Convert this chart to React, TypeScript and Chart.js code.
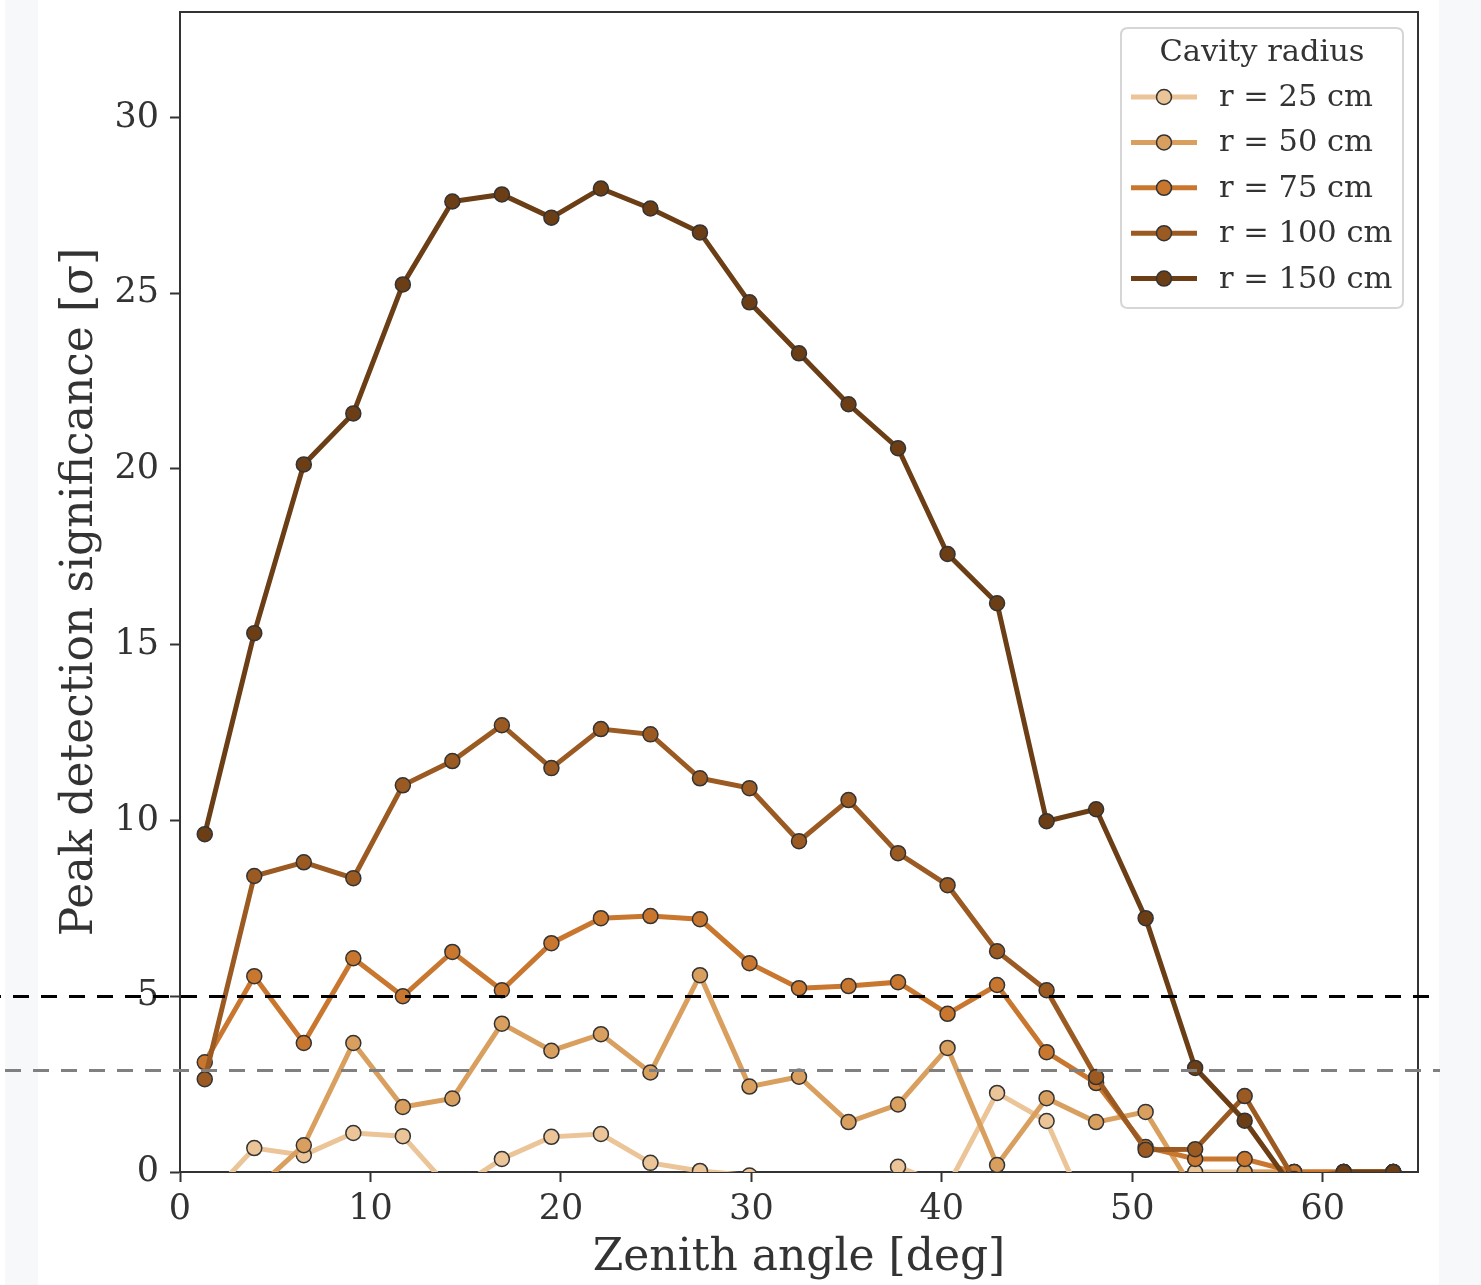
import React, { useEffect, useRef } from "react";
import { Chart, registerables } from "chart.js";

Chart.register(...registerables);

// ---------- data ----------
const zenithAngles = [1.3, 3.9, 6.5, 9.1, 11.7, 14.3, 16.9, 19.5, 22.1, 24.7, 27.3, 29.9, 32.5, 35.1, 37.7, 40.3, 42.9, 45.5, 48.1, 50.7, 53.3, 55.9, 58.5, 61.1, 63.7];

const sigR25 = [-0.83, 0.68, 0.48, 1.11, 1.02, -0.55, 0.37, 1.0, 1.08, 0.26, 0.03, -0.1, -1.0, -1.5, 0.15, -0.41, 2.25, 1.45, -1.73, -0.5, 0, 0, 0, 0, 0];
const sigR50 = [-1.0, -0.53, 0.76, 3.67, 1.85, 2.09, 4.22, 3.45, 3.92, 2.83, 5.6, 2.43, 2.71, 1.42, 1.92, 3.53, 0.2, 2.1, 1.42, 1.71, -0.6, 0, 0, 0, 0];
const sigR75 = [3.12, 5.57, 3.67, 6.08, 5.0, 6.26, 5.17, 6.51, 7.22, 7.28, 7.19, 5.94, 5.23, 5.29, 5.4, 4.5, 5.32, 3.41, 2.53, 0.71, 0.37, 0.37, 0, 0, 0];
const sigR100 = [2.64, 8.42, 8.81, 8.36, 11.0, 11.69, 12.71, 11.49, 12.6, 12.45, 11.2, 10.92, 9.41, 10.58, 9.07, 8.16, 6.28, 5.17, 2.7, 0.63, 0.65, 2.16, -0.2, 0, 0];
const sigR150 = [9.61, 15.33, 20.13, 21.58, 25.25, 27.61, 27.81, 27.15, 27.98, 27.41, 26.73, 24.74, 23.29, 21.84, 20.59, 17.58, 16.18, 9.98, 10.32, 7.22, 2.96, 1.46, -0.5, 0, 0];

const seriesValues = [sigR25, sigR50, sigR75, sigR100, sigR150];
const seriesLabels = ["r = 25 cm", "r = 50 cm", "r = 75 cm", "r = 100 cm", "r = 150 cm"];
const seriesColors = ["#ebc498", "#d99f5f", "#c9772f", "#9b5a22", "#6b3e16"];

const thresholdValues = [5, 2.9];
const thresholdColors = ["#000000", "#808080"];

const legendTitle = "Cavity radius";
const xTitle = "Zenith angle [deg]";
const yTitle = "Peak detection significance [σ]";

const FONT = '"DejaVu Serif", serif';
const INK = "#333333";

// ---------- plugins ----------
const framePlugin = {
  id: "frame",
  afterDraw(chart: any) {
    const { ctx, chartArea } = chart;
    const ys = chart.scales.y;
    ctx.save();
    ctx.strokeStyle = INK;
    ctx.lineWidth = 2;
    ctx.beginPath();
    ctx.moveTo(chartArea.left, chartArea.top);
    ctx.lineTo(chartArea.right, chartArea.top);
    ctx.lineTo(chartArea.right, chartArea.bottom);
    ctx.stroke();

    const offsets = [15, 23];
    thresholdValues.forEach((v, i) => {
      const py = Math.round(ys.getPixelForValue(v)) + 0.5;
      ctx.strokeStyle = thresholdColors[i];
      ctx.lineWidth = 3;
      ctx.setLineDash([16, 12]);
      ctx.lineDashOffset = offsets[i];
      ctx.beginPath();
      ctx.moveTo(0, py);
      ctx.lineTo(1440, py);
      ctx.stroke();
    });
    ctx.setLineDash([]);

    const lx = 1121, ly = 28, lw = 282, lh = 280, rad = 7;
    ctx.beginPath();
    ctx.moveTo(lx + rad, ly);
    ctx.lineTo(lx + lw - rad, ly);
    ctx.quadraticCurveTo(lx + lw, ly, lx + lw, ly + rad);
    ctx.lineTo(lx + lw, ly + lh - rad);
    ctx.quadraticCurveTo(lx + lw, ly + lh, lx + lw - rad, ly + lh);
    ctx.lineTo(lx + rad, ly + lh);
    ctx.quadraticCurveTo(lx, ly + lh, lx, ly + lh - rad);
    ctx.lineTo(lx, ly + rad);
    ctx.quadraticCurveTo(lx, ly, lx + rad, ly);
    ctx.closePath();
    ctx.fillStyle = "rgba(255,255,255,0.85)";
    ctx.fill();
    ctx.strokeStyle = "#d6d6d6";
    ctx.lineWidth = 2;
    ctx.stroke();

    ctx.font = `30.5px ${FONT}`;
    ctx.fillStyle = INK;
    ctx.textAlign = "center";
    ctx.textBaseline = "middle";
    ctx.fillText(legendTitle, 1262, 53);

    chart.data.datasets.forEach((ds: any, i: number) => {
      const cy = 97 + i * 45.4;
      ctx.strokeStyle = ds.borderColor;
      ctx.lineWidth = 5;
      ctx.beginPath();
      ctx.moveTo(1131, cy);
      ctx.lineTo(1197, cy);
      ctx.stroke();
      ctx.beginPath();
      ctx.arc(1164, cy, 7.5, 0, Math.PI * 2);
      ctx.fillStyle = ds.pointBackgroundColor;
      ctx.fill();
      ctx.strokeStyle = INK;
      ctx.lineWidth = 1.5;
      ctx.stroke();
      ctx.fillStyle = INK;
      ctx.textAlign = "left";
      ctx.fillText(ds.label, 1219, cy + 1);
    });
    ctx.restore();
  },
};

export default function App() {
  const canvasRef = useRef<HTMLCanvasElement | null>(null);

  useEffect(() => {
    if (!canvasRef.current) return;
    const datasets = seriesValues.map((vals, i) => ({
      label: seriesLabels[i],
      data: zenithAngles.map((x, j) => ({ x, y: vals[j] })),
      borderColor: seriesColors[i],
      backgroundColor: seriesColors[i],
      borderWidth: 5,
      pointRadius: 7.5,
      pointHoverRadius: 7.5,
      pointBackgroundColor: seriesColors[i],
      pointBorderColor: INK,
      pointBorderWidth: 1.5,
      tension: 0,
      clip: 0,
      order: seriesValues.length - i,
    }));

    const chart = new Chart(canvasRef.current, {
      type: "line",
      data: { datasets },
      options: {
        animation: false,
        responsive: false,
        devicePixelRatio: 1,
        layout: { padding: { top: 12, right: 63, left: 0, bottom: 0 } },
        plugins: { legend: { display: false }, tooltip: { enabled: false } },
        scales: {
          x: {
            type: "linear",
            min: 0,
            max: 65,
            ticks: {
              stepSize: 10,
              includeBounds: false,
              font: { family: FONT, size: 35 },
              color: INK,
              padding: 7,
            },
            grid: { drawOnChartArea: false, tickLength: 10, tickWidth: 2, tickColor: INK },
            border: { display: true, color: INK, width: 2 },
            title: {
              display: true,
              text: xTitle,
              font: { family: FONT, size: 44 },
              color: INK,
              padding: { top: 0, bottom: 0 },
            },
            afterFit: (s: any) => {
              s.height = 113;
              s.paddingLeft = 0;
              s.paddingRight = 0;
            },
          },
          y: {
            type: "linear",
            min: 0,
            max: 33,
            ticks: {
              stepSize: 5,
              includeBounds: false,
              font: { family: FONT, size: 35 },
              color: INK,
              padding: 11,
            },
            grid: { drawOnChartArea: false, tickLength: 10, tickWidth: 2, tickColor: INK },
            border: { display: true, color: INK, width: 2 },
            title: {
              display: true,
              text: yTitle,
              font: { family: FONT, size: 44 },
              color: INK,
              padding: { top: 54, bottom: 0 },
            },
            afterFit: (s: any) => {
              s.width = 180;
              s.paddingTop = 0;
              s.paddingBottom = 0;
            },
          },
        },
      },
      plugins: [framePlugin],
    });
    return () => chart.destroy();
  }, []);

  return (
    <div style={{ position: "fixed", left: 0, top: 0, width: 1481, height: 1285, background: "#ffffff", overflow: "hidden" }}>
      <div style={{ position: "absolute", left: 5, top: 0, width: 33, height: 1285, background: "#f7f8fa" }} />
      <div style={{ position: "absolute", left: 1439, top: 0, width: 42, height: 1285, background: "#f7f8fa" }} />
      <canvas ref={canvasRef} width={1481} height={1285} style={{ position: "absolute", left: 0, top: 0 }} />
    </div>
  );
}
